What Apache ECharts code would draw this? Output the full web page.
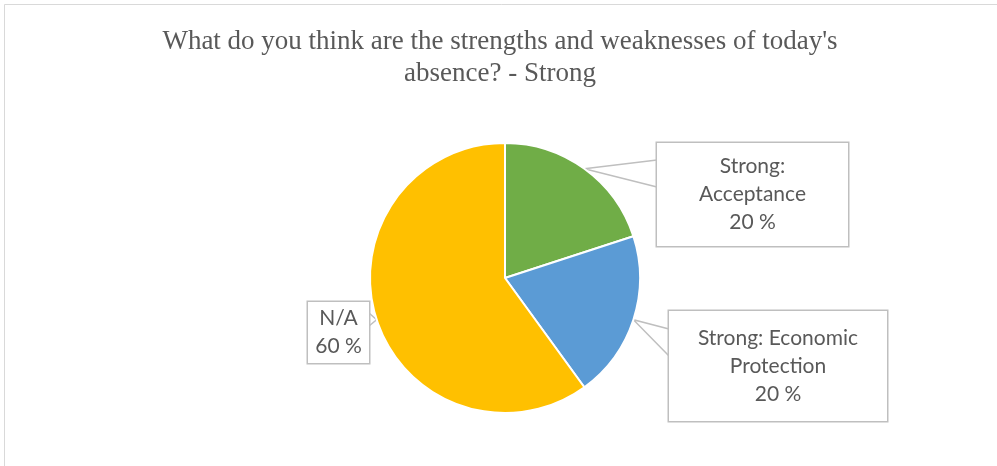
<!DOCTYPE html>
<html><head><meta charset="utf-8">
<script src="https://cdn.jsdelivr.net/npm/echarts@6/dist/echarts.min.js"></script>
<style>html,body{margin:0;padding:0;background:#fff}#c{width:997px;height:466px}</style></head>
<body><div id="c"></div><script>
const titleText = "What do you think are the strengths and weaknesses of today's\nabsence? - Strong";
const categories = ['Strong: Acceptance', 'Strong: Economic Protection', 'N/A'];
const wrappedNames = ['Strong:\nAcceptance', 'Strong: Economic\nProtection', 'N/A'];
const values = [20, 20, 60];
const colors = ['#70AD47', '#5B9BD5', '#FFC000'];

// callout box layout (label placement only)
const boxes = [
  {x: 657, y: 143, w: 191, h: 103, side: 'left', b1: 160, b2: 187},
  {x: 669, y: 311, w: 218, h: 110, side: 'left', b1: 329, b2: 356},
  {x: 308, y: 302, w: 61, h: 61, side: 'right', b1: 313, b2: 326}
];

const chart = echarts.init(document.getElementById('c'), null, {renderer: 'canvas'});
const data = categories.map((name, i) => ({
  name: name,
  value: values[i],
  itemStyle: {color: colors[i]},
  label: {width: boxes[i].w, height: boxes[i].h}
}));

chart.setOption({
  animation: false,
  backgroundColor: '#fff',
  title: {
    text: titleText,
    left: 500,
    top: 26,
    padding: 0,
    textAlign: 'center',
    textStyle: {fontFamily: 'Liberation Serif', fontSize: 27, fontWeight: 'normal', color: '#595959', lineHeight: 32}
  },
  graphic: [{
    type: 'rect', silent: true,
    shape: {x: 4.5, y: 4.5, width: 1000, height: 500},
    style: {fill: 'none', stroke: '#d9d9d9', lineWidth: 1}
  }],
  series: [{
    type: 'pie',
    center: [505, 278],
    radius: 135,
    startAngle: 90,
    clockwise: true,
    data: data,
    itemStyle: {borderColor: '#fff', borderWidth: 2},
    label: {
      show: true,
      position: 'outside',
      formatter: p => wrappedNames[p.dataIndex] + '\n' + Math.round(p.percent) + ' %',
      fontFamily: 'Lato',
      fontSize: 21,
      lineHeight: 28,
      color: '#595959',
      align: 'center',
      backgroundColor: '#fff',
      borderColor: '#bfbfbf',
      borderWidth: 1.5,
      padding: 0
    },
    labelLine: {show: true, length: 20, length2: 20, lineStyle: {color: '#bfbfbf', width: 1.5}},
    labelLayout: function (p) {
      const b = boxes[p.dataIndex];
      const res = {x: b.x + b.w / 2, y: b.y + b.h / 2, align: 'center', verticalAlign: 'middle'};
      if (p.labelLinePoints) {
        const tip = p.labelLinePoints[0];
        const ex = b.side === 'left' ? b.x : b.x + b.w;
        res.labelLinePoints = [[ex, b.b1], [tip[0], tip[1]], [ex, b.b2]];
      }
      return res;
    }
  }]
});
</script></body></html>
